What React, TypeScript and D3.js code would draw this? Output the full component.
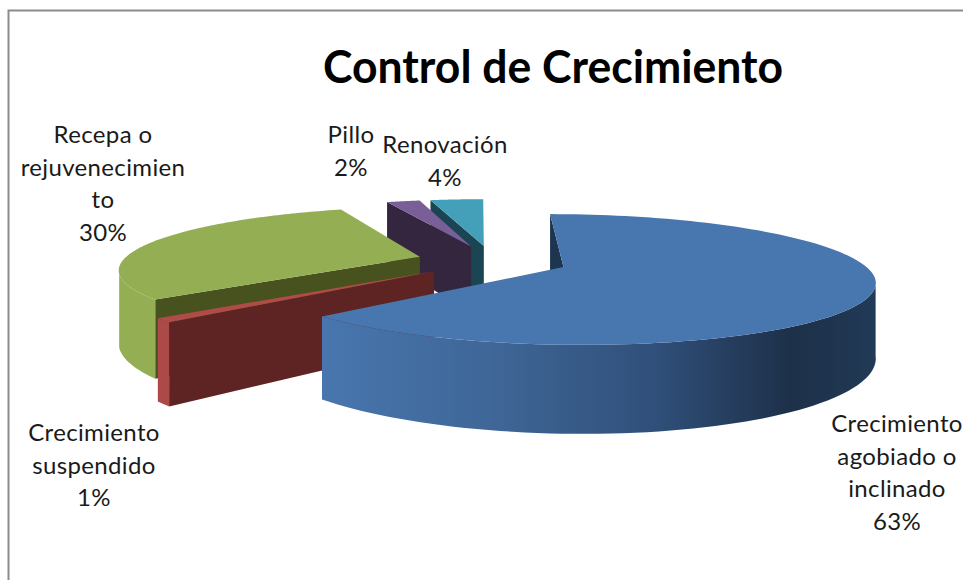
import React from "react";
import * as d3 from "d3";

const title = "Control de Crecimiento";
const categories = ["Crecimiento agobiado o inclinado", "Crecimiento suspendido", "Recepa o rejuvenecimiento", "Pillo", "Renovación"];
const values = [63, 1, 30.3, 2.2, 3.5];
const topColors = ["#4876AE", "#B04B48", "#93AE53", "#795E98", "#44A0B8"];
const edgeColors = ["#1E3550", "#5E2424", "#47521F", "#35263F", "#1B4552"];
const rimColors = ["url(#blueRim)", "#AB4A47", "#93AE53", "#6E558A", "#3E92A8"];
const drawOrder = [4, 3, 2, 1, 0];
const labelLines = [
  ["Crecimiento", "agobiado o", "inclinado", "63%"],
  ["Crecimiento", "suspendido", "1%"],
  ["Recepa o", "rejuvenecimien", "to", "30%"],
  ["Pillo", "2%"],
  ["Renovación", "4%"],
];
const labelAnchors = [
  { x: 897, y: 432 },
  { x: 94, y: 441 },
  { x: 103, y: 143 },
  { x: 351, y: 143 },
  { x: 445, y: 153 },
];

const cx = 563.5, cy = 267;
const A = 303, B = 63, k = 0.191, skew = -16, H = 72, explode = 0.255;

const project = (X: number, Z: number, h = 0): [number, number] => {
  const w = 1 + k * Z;
  return [cx + (A * X + skew * Z) / w, cy + (-B * Z + h * H) / w];
};

const arcs = d3.pie<number>().sort(null).startAngle(0).endAngle(2 * Math.PI)(values);
const line = d3.line();
const blueMid = (arcs[0].startAngle + arcs[0].endAngle) / 2;
const originX = -explode * Math.sin(blueMid);
const originZ = -explode * Math.cos(blueMid);

function slicePaths(i: number) {
  const a = arcs[i];
  const mid = (a.startAngle + a.endAngle) / 2;
  const ox = originX + explode * Math.sin(mid);
  const oz = originZ + explode * Math.cos(mid);
  const thetas = d3.range(0, 121).map((t) => a.startAngle + ((a.endAngle - a.startAngle) * t) / 120);
  const rimPt = (t: number): [number, number] => [ox + Math.sin(t), oz + Math.cos(t)];
  const rim = thetas.map(rimPt);
  const top = [project(ox, oz), ...rim.map(([x, z]) => project(x, z))];
  const seen = thetas.filter((t) => {
    const [x, z] = rimPt(t);
    return (z + 1 / k) * Math.cos(t) + x * Math.sin(t) < 0;
  });
  const front = seen.map(rimPt);
  const wall = front.length
    ? [...front.map(([x, z]) => project(x, z)), ...front.slice().reverse().map(([x, z]) => project(x, z, 1))]
    : null;
  const [sx, sz] = rim[0];
  const edge = [project(sx, sz), project(ox, oz), project(ox, oz, 1), project(sx, sz, 1)];
  return { top, wall, edge };
}

const fontFamily = "Lato, 'Open Sans', sans-serif";

export default function App() {
  return (
    <svg width={963} height={580} style={{ position: "fixed", left: 0, top: 0, background: "#fff" }}>
      <defs>
        <linearGradient id="blueRim" gradientUnits="userSpaceOnUse" x1={321} x2={875} y1={0} y2={0}>
          <stop offset="0" stopColor="#4876AE" />
          <stop offset="0.3" stopColor="#3F6798" />
          <stop offset="0.6" stopColor="#30507A" />
          <stop offset="0.85" stopColor="#1D3049" />
          <stop offset="1" stopColor="#213A56" />
        </linearGradient>
      </defs>
      <path d="M8.5,580V10.5H963" fill="none" stroke="#8C8C8C" strokeWidth={2} />
      <text x={553} y={83} textAnchor="middle" fontFamily={fontFamily} fontWeight={700} fontSize={45}
        textLength={460} lengthAdjust="spacingAndGlyphs" fill="#000">{title}</text>
      {drawOrder.map((i) => {
        const p = slicePaths(i);
        return (
          <g key={categories[i]}>
            {p.wall && <path d={line(p.wall) + "Z"} fill={rimColors[i]} />}
            <path d={line(p.edge) + "Z"} fill={edgeColors[i]} />
            <path d={line(p.top) + "Z"} fill={topColors[i]} />
          </g>
        );
      })}
      {labelLines.map((lines, i) => (
        <text key={i} textAnchor="middle" fontFamily={fontFamily} fontSize={24} letterSpacing={0.35} fill="#1a1a1a">
          {lines.map((l, j) => (
            <tspan key={j} x={labelAnchors[i].x} y={labelAnchors[i].y + j * 32.5}>{l}</tspan>
          ))}
        </text>
      ))}
    </svg>
  );
}
